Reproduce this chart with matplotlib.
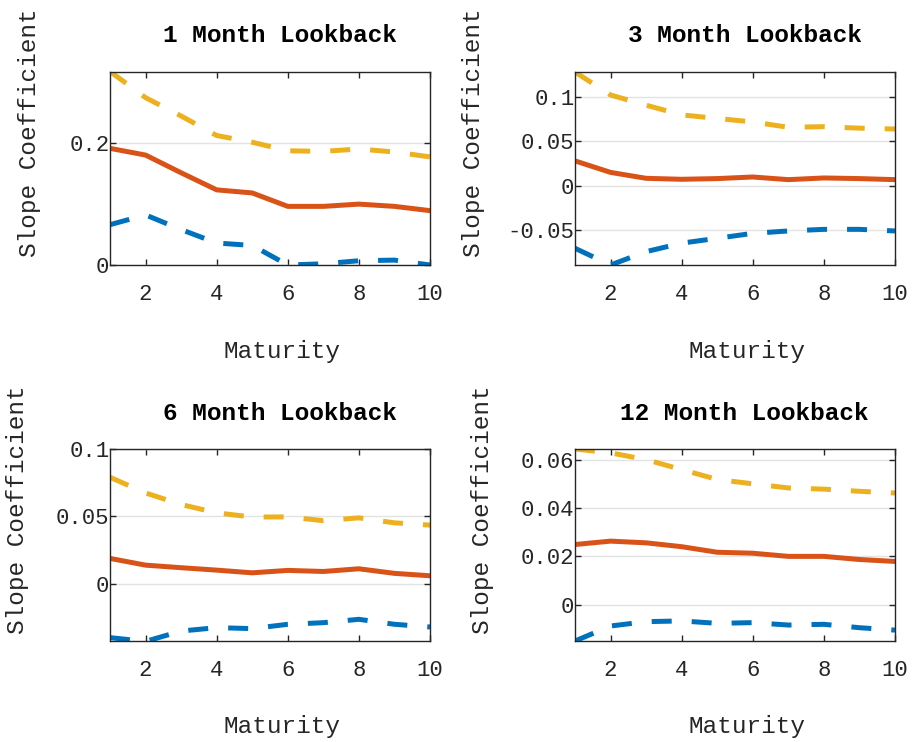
import matplotlib
matplotlib.use("Agg")
import matplotlib.pyplot as plt
import numpy as np

maturity = np.arange(1, 11)

# 1 month lookback
upper_1 = [0.317, 0.274, 0.244, 0.212, 0.201, 0.187, 0.186, 0.190, 0.185, 0.177]
coef_1 = [0.191, 0.180, 0.151, 0.123, 0.118, 0.096, 0.096, 0.0997, 0.096, 0.089]
lower_1 = [0.066, 0.082, 0.058, 0.036, 0.032, 0.000, 0.002, 0.007, 0.008, 0.000]

# 3 month lookback
upper_3 = [0.1285, 0.1025, 0.091, 0.080, 0.076, 0.072, 0.066, 0.0667, 0.065, 0.064]
coef_3 = [0.028, 0.015, 0.0083, 0.0072, 0.008, 0.0098, 0.0068, 0.0087, 0.008, 0.0068]
lower_3 = [-0.0708, -0.0897, -0.0746, -0.065, -0.0595, -0.0539, -0.0512, -0.0494, -0.0494, -0.0512]

# 6 month lookback
upper_6 = [0.079, 0.0674, 0.0588, 0.0526, 0.0495, 0.0496, 0.0468, 0.0489, 0.0452, 0.0435]
coef_6 = [0.0188, 0.0138, 0.0119, 0.0101, 0.0081, 0.0099, 0.0091, 0.0111, 0.0077, 0.0059]
lower_6 = [-0.040, -0.0428, -0.0351, -0.0326, -0.0333, -0.0301, -0.0289, -0.0264, -0.0301, -0.0321]

# 12 month lookback
upper_12 = [0.0644, 0.0628, 0.060, 0.0559, 0.0518, 0.050, 0.0483, 0.0478, 0.0469, 0.0462]
coef_12 = [0.0249, 0.0263, 0.0256, 0.0240, 0.0217, 0.0213, 0.020, 0.020, 0.0187, 0.0179]
lower_12 = [-0.015, -0.0088, -0.0070, -0.0067, -0.0077, -0.0074, -0.0084, -0.0081, -0.0095, -0.0105]

titles = ["1 Month Lookback", "3 Month Lookback", "6 Month Lookback", "12 Month Lookback"]
uppers = [upper_1, upper_3, upper_6, upper_12]
coefs = [coef_1, coef_3, coef_6, coef_12]
lowers = [lower_1, lower_3, lower_6, lower_12]
ylims = [(0, 0.316), (-0.0897, 0.1285), (-0.0425, 0.1), (-0.015, 0.0644)]
yticks = [[0, 0.2], [-0.05, 0, 0.05, 0.1], [0, 0.05, 0.1], [0, 0.02, 0.04, 0.06]]
yticklabels = [["0", "0.2"], ["-0.05", "0", "0.05", "0.1"], ["0", "0.05", "0.1"],
               ["0", "0.02", "0.04", "0.06"]]

blue = "#0072BD"
red = "#D95319"
yellow = "#EDB120"
dark = "#262626"

plt.rcParams['font.family'] = ['Liberation Mono', 'DejaVu Sans Mono']

W, H = 914, 742
fig = plt.figure(figsize=(W / 100, H / 100), dpi=100)

# axes boxes in pixels: left, right, top, bottom
boxes = [(110, 430, 72, 265), (575, 895, 72, 265),
         (110, 430, 449, 641), (575, 895, 449, 641)]
ylabel_x = [-0.25, -0.316, -0.289, -0.288]

for i in range(4):
    l, r, t, b = boxes[i]
    ax = fig.add_axes([l / W, (H - b) / H, (r - l) / W, (b - t) / H])
    ax.plot(maturity, lowers[i], color=blue, lw=3.6, linestyle=(0, (4, 4)))
    ax.plot(maturity, coefs[i], color=red, lw=3.6)
    ax.plot(maturity, uppers[i], color=yellow, lw=3.6, linestyle=(0, (4, 4)))

    ax.set_xlim(1, 10)
    ax.set_ylim(*ylims[i])
    ax.set_xticks([2, 4, 6, 8, 10])
    ax.set_yticks(yticks[i])
    ax.set_yticklabels(yticklabels[i])
    ax.yaxis.grid(True, color="#e3e3e3", lw=1)
    ax.set_axisbelow(True)
    for s in ax.spines.values():
        s.set_color(dark)
        s.set_linewidth(1)
    ax.tick_params(direction="in", length=4, width=1, color=dark,
                   top=True, right=True, labelsize=16, labelcolor=dark)
    ax.tick_params(axis="x", pad=14)
    ax.tick_params(axis="y", pad=0.5)

    ax.set_title(titles[i], fontsize=17.6, fontweight="bold", color="black",
                 x=0.53, y=1.187, va="center", pad=0)

    ax.set_xlabel("Maturity", fontsize=17.6, color=dark)
    ax.xaxis.set_label_coords(0.536, -0.447)
    ax.xaxis.label.set_va("center")

    ax.set_ylabel("Slope Coefficient", fontsize=17.6, color=dark)
    ax.yaxis.set_label_coords(ylabel_x[i], 0.685)
    ax.yaxis.label.set_va("center")

fig.savefig("out.png", dpi=100)
